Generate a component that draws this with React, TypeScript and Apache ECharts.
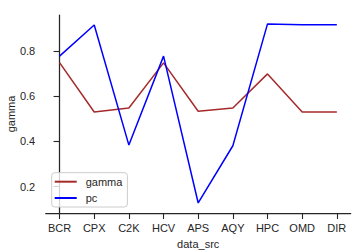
import React, { useEffect, useRef } from "react";
import * as echarts from "echarts";

const categories = ["BCR", "CPX", "C2K", "HCV", "APS", "AQY", "HPC", "OMD", "DIR"];
const gammaValues = [0.75, 0.531, 0.549, 0.749, 0.534, 0.549, 0.70, 0.531, 0.531];
const pcValues = [0.779, 0.917, 0.384, 0.779, 0.127, 0.381, 0.922, 0.918, 0.918];
const yTicks = [0.2, 0.4, 0.6, 0.8];

const FONT = "'Liberation Sans', Arial, Helvetica, sans-serif";
const INK = "#262626";

export default function App() {
  const ref = useRef<HTMLDivElement>(null);
  useEffect(() => {
    if (!ref.current) return;
    const chart = echarts.init(ref.current, undefined, { renderer: "svg" });
    const xTicks = categories.map((_, i) => i);
    chart.setOption({
      animation: false,
      backgroundColor: "#ffffff",
      textStyle: { fontFamily: FONT },
      grid: { left: 45.7, right: 11.3, top: 15, bottom: 37, containLabel: false, outerBoundsMode: "none" },
      xAxis: {
        type: "value",
        min: -0.4,
        max: categories.length - 1 + 0.4,
        name: "data_src",
        nameLocation: "middle",
        nameGap: 25,
        nameMoveOverlap: false,
        nameTextStyle: { fontSize: 11, color: INK, fontFamily: FONT },
        axisLine: { show: true, lineStyle: { color: INK, width: 1.25 } },
        axisTick: { show: true, length: 6, customValues: xTicks, lineStyle: { color: INK, width: 1.1 } },
        axisLabel: {
          customValues: xTicks,
          margin: 9,
          fontSize: 11,
          color: INK,
          fontFamily: FONT,
          formatter: (v: number) => categories[Math.round(v)] ?? "",
        },
        splitLine: { show: false },
      },
      yAxis: {
        type: "value",
        min: 0.0825,
        max: 0.9615,
        name: "gamma",
        nameLocation: "middle",
        nameGap: 29,
        nameMoveOverlap: false,
        nameTextStyle: { fontSize: 11, color: INK, fontFamily: FONT },
        axisLine: { show: true, lineStyle: { color: INK, width: 1.25 } },
        axisTick: { show: true, length: 6, customValues: yTicks, lineStyle: { color: INK, width: 1.1 } },
        axisLabel: {
          customValues: yTicks,
          margin: 10.5,
          fontSize: 11,
          color: INK,
          fontFamily: FONT,
          formatter: (v: number) => v.toFixed(1),
        },
        splitLine: { show: false },
      },
      legend: {
        orient: "vertical",
        left: 51.7,
        top: 172.7,
        padding: [2, 5, 2, 3],
        itemGap: 2.3,
        itemWidth: 22,
        itemHeight: 2,
        icon: "rect",
        borderColor: "#cccccc",
        borderWidth: 1,
        borderRadius: 3,
        backgroundColor: "rgba(255,255,255,0.8)",
        textStyle: { fontSize: 11, color: INK, fontFamily: FONT, lineHeight: 14, padding: [0, 0, 0, 4] },
        data: ["gamma", "pc"],
      },
      series: [
        {
          name: "gamma",
          type: "line",
          symbol: "none",
          color: "#a52a2a",
          lineStyle: { color: "#a52a2a", width: 1.5 },
          data: gammaValues.map((v, i) => [i, v]),
        },
        {
          name: "pc",
          type: "line",
          symbol: "none",
          color: "#0000ff",
          lineStyle: { color: "#0000ff", width: 1.5 },
          data: pcValues.map((v, i) => [i, v]),
        },
      ],
    });
    return () => chart.dispose();
  }, []);
  return (
    <div
      ref={ref}
      style={{ position: "absolute", left: 0, top: 0, width: 362, height: 250 }}
    />
  );
}
